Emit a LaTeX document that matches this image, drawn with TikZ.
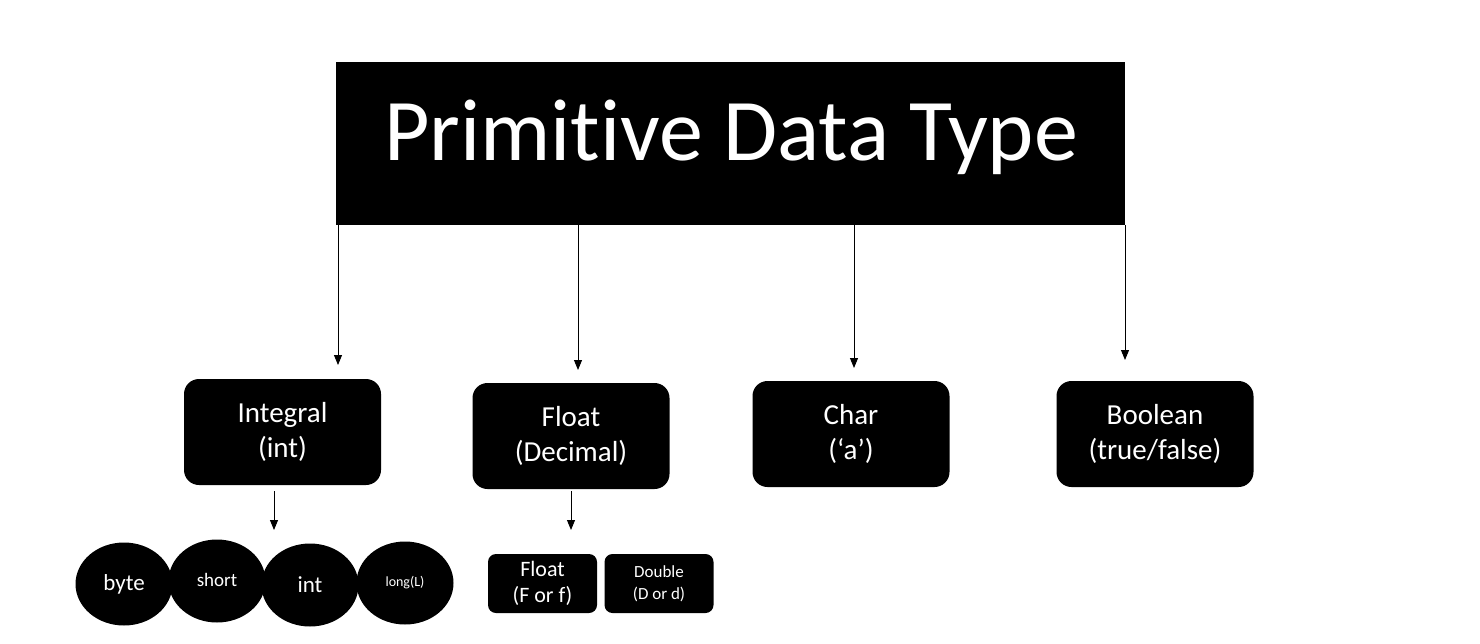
\documentclass[tikz,border=0pt]{standalone}
\usepackage{fontspec}
\setmainfont{Carlito}[Ligatures=NoCommon]
\usetikzlibrary{shapes.geometric,arrows.meta}

\begin{document}
\begin{tikzpicture}[x=1pt,y=-1pt]
  % Define styles for nodes
  \tikzstyle{titlebox} = [rectangle, fill=black, minimum width=789pt,
  minimum height=163pt, inner sep=0pt]
  \tikzstyle{typebox} = [rectangle, fill=black, rounded corners=15pt,
  minimum width=197pt, minimum height=106pt, inner sep=0pt, text=white,
  align=center, font=\fontsize{29}{35}\selectfont]
  \tikzstyle{subbox} = [rectangle, fill=black, rounded corners=8pt,
  minimum width=109pt, minimum height=59pt, inner sep=0pt, text=white,
  align=center]
  \tikzstyle{blob} = [ellipse, fill=black, minimum width=97pt,
  minimum height=83pt, inner sep=0pt, text=white]
  \tikzstyle{arrow} = [line width=0.9pt, -{Triangle[length=10pt,width=8pt]}]

  \useasboundingbox (0,0) rectangle (1480,643);

  % Title at top
  \node[titlebox] (title) at (730.5,143.5) {};
  \node[anchor=base, text=white, font=\fontsize{88}{92}\selectfont]
  (titletext) at (731,160) {Primitive Data Type};

  % The four kinds of types
  \node[typebox] (integral) at (282.5,432) {Integral\\(int)};
  \node[typebox] (float) at (571,436) {Float\\(Decimal)};
  \node[typebox] (char) at (851,434) {Char\\(‘a’)};
  \node[typebox] (boolean) at (1155,434) {Boolean\\(true/false)};

  % Arrow ends
  \coordinate (a1) at (338,365);
  \coordinate (a2) at (578,370);
  \coordinate (a3) at (854,368);
  \coordinate (a4) at (1125,360);
  \coordinate (b1) at (274,530);
  \coordinate (b2) at (571,530);

  % Connections
  \draw[arrow] (a1 |- title.south) -- (a1);
  \draw[arrow] (a2 |- title.south) -- (a2);
  \draw[arrow] (a3 |- title.south) -- (a3);
  \draw[arrow] (a4 |- title.south) -- (a4);
  \draw[arrow, shorten <=6pt] (b1 |- integral.south) -- (b1);
  \draw[arrow, shorten <=2pt] (b2 |- float.south) -- (b2);

  % Integral types
  \node[blob, font=\fontsize{23}{26}\selectfont] (byte) at (124,584) {byte};
  \node[blob, font=\fontsize{19}{22}\selectfont] (short) at (217,581)
  {\raisebox{3pt}{short}};
  \node[blob, font=\fontsize{23}{26}\selectfont] (int) at (310,585) {int};
  \node[blob, font=\fontsize{14}{17}\selectfont] (long) at (405,583)
  {\raisebox{2pt}{long(L)}};

  % Float types
  \node[subbox, font=\fontsize{22}{26}\selectfont] (floatf) at (542.5,583.5)
  {Float\\(F or f)};
  \node[subbox, font=\fontsize{17}{22}\selectfont] (double) at (659,583.5)
  {Double\\(D or d)};
\end{tikzpicture}
\end{document}
